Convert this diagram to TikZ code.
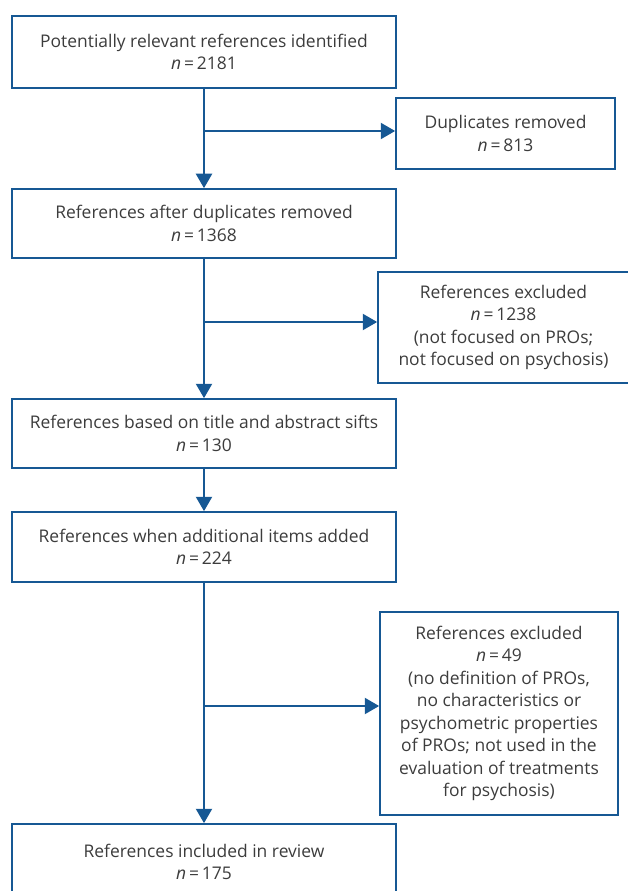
\documentclass[tikz,border=0pt]{standalone}
\usepackage{fontspec}
\setmainfont{Open Sans}
\usetikzlibrary{arrows.meta}
\definecolor{flowblue}{RGB}{22,88,148}
\definecolor{flowtext}{RGB}{60,60,60}
\newcommand{\nval}[1]{\textit{n}\,=\,#1}
\tikzset{
  box/.style={draw=flowblue, line width=1.2pt, align=center, text=flowtext,
    font=\fontsize{12.4}{16}\selectfont, inner sep=0pt},
  flow/.style={draw=flowblue, line width=1.6pt,
    -{Triangle[width=0.4cm,length=0.36cm]}}
}
\begin{document}
\begin{tikzpicture}[x=0.025cm, y=-0.025cm]
  \useasboundingbox (0,0) rectangle (628,891);
  \clip (0,0) rectangle (628,891);

  % main column
  \node[box, minimum width=384*0.025cm, minimum height=72*0.025cm] (found) at (204,52)
    {Potentially relevant references identified\\ \nval{2181}};
  \node[box, minimum width=384*0.025cm, minimum height=69*0.025cm] (dedup) at (204,223.5)
    {References after duplicates removed\\ \nval{1368}};
  \node[box, minimum width=384*0.025cm, minimum height=69*0.025cm] (sift) at (204,433.5)
    {References based on title and abstract sifts\\ \nval{130}};
  \node[box, minimum width=384*0.025cm, minimum height=70*0.025cm] (added) at (204,547)
    {References when additional items added\\ \nval{224}};
  \node[box, minimum width=384*0.025cm, minimum height=76*0.025cm] (review) at (204,862)
    {References included in review\\ \nval{175}};

  % side boxes
  \node[box, minimum width=219*0.025cm, minimum height=71*0.025cm] (dup) at (505.5,133.5)
    {Duplicates removed\\ \nval{813}};
  \node[box, minimum width=251*0.025cm, minimum height=111*0.025cm] (excl1) at (503.5,327.5)
    {References excluded\\ \nval{1238}\\ (not focused on PROs;\\ not focused on psychosis)};
  \node[box, minimum width=238*0.025cm, minimum height=203*0.025cm] (excl2) at (499,713.5)
    {References excluded\\ \nval{49}\\ (no definition of PROs,\\ no characteristics or\\
     psychometric properties\\ of PROs; not used in the\\ evaluation of treatments\\ for psychosis)};

  % junctions
  \coordinate (j1) at (204,131);
  \coordinate (j2) at (204,322);
  \coordinate (j3) at (204,706);

  \draw[flow] (found) -- (dedup);
  \draw[flow] (dedup) -- (sift);
  \draw[flow] (sift) -- (added);
  \draw[flow] (added) -- (review);

  \draw[flow] (j1) -- (j1 -| dup.west);
  \draw[flow] (j2) -- (j2 -| excl1.west);
  \draw[flow] (j3) -- (j3 -| excl2.west);
\end{tikzpicture}
\end{document}
